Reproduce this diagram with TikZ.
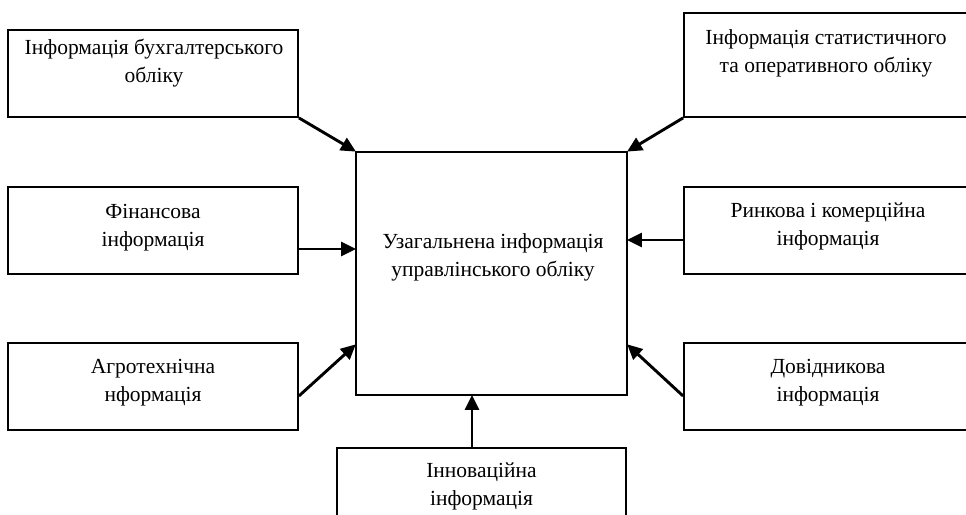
\documentclass[tikz,border=0pt]{standalone}
\usepackage{fontspec}
\setmainfont{Liberation Serif}
\usetikzlibrary{arrows.meta}
\begin{document}
\begin{tikzpicture}[x=1pt,y=-1pt,
  box/.style={draw, line width=1.8pt, minimum width=#1, inner sep=0pt},
  txt/.style={align=center, inner sep=0pt, font=\fontsize{21.5}{28}\selectfont},
  arr/.style={line width=2.9pt, -{Triangle[length=15pt,width=14pt]}, shorten >=-1pt}]
\useasboundingbox (0,0) rectangle (966,514);
% boxes
\node[box=290pt, minimum height=87pt] (b1) at (153,73.5) {};
\node[box=288pt, minimum height=104pt] (b2) at (828,65) {};
\node[box=290pt, minimum height=87pt] (b3) at (153,230.5) {};
\node[box=288pt, minimum height=87pt] (b4) at (828,230.5) {};
\node[box=290pt, minimum height=87pt] (b5) at (153,386.5) {};
\node[box=288pt, minimum height=87pt] (b6) at (828,386.5) {};
\node[box=271pt, minimum height=243pt] (c) at (491.5,273.5) {};
\node[box=289pt, minimum height=90pt] (b7) at (481.5,493) {};
% texts
\node[txt] (t1) at (154,63) {Інформація бухгалтерського\\обліку};
\node[txt] (t2) at (826,53) {Інформація статистичного\\та оперативного обліку};
\node[txt] (t3) at (153,228) {Фінансова\\інформація};
\node[txt] (t4) at (828,226) {Ринкова і комерційна\\інформація};
\node[txt] (t5) at (153,383) {Агротехнічна\\нформація};
\node[txt] (t6) at (828,383) {Довідникова\\інформація};
\node[txt] (tc) at (493,257) {Узагальнена інформація\\управлінського обліку};
\node[txt] (t7) at (481.5,486) {Інноваційна\\інформація};
% arrows
\draw[arr] (b1.south east) -- (c.north west);
\draw[arr] (b2.south west) -- (c.north east);
\draw[arr] (b3.east |- 0,249) -- (c.west |- 0,249);
\draw[arr] (b4.west |- 0,240) -- (c.east |- 0,240);
\draw[arr] (b5.east |- 0,396) -- (c.west |- 0,345);
\draw[arr] (b6.west |- 0,396) -- (c.east |- 0,345);
\draw[arr] (b7.north -| 472,0) -- (c.south -| 472,0);
\end{tikzpicture}
\end{document}
